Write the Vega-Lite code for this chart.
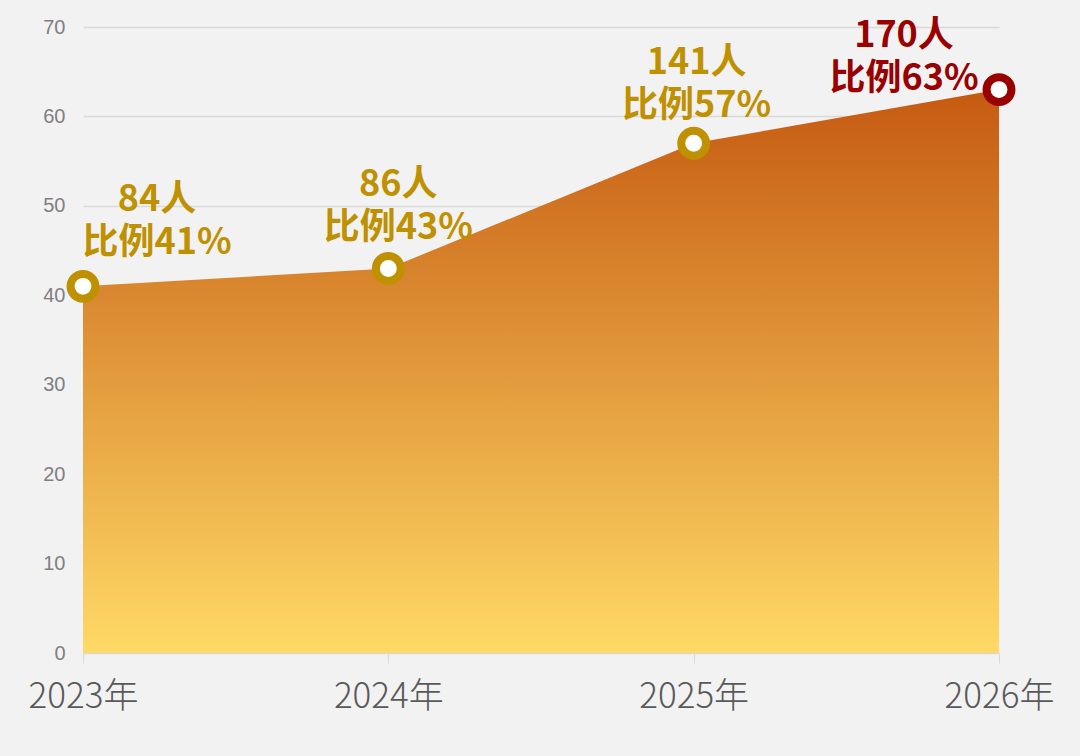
{
  "$schema": "https://vega.github.io/schema/vega-lite/v6.json",
  "width": 916,
  "height": 626,
  "autosize": {"type": "none"},
  "padding": {"left": 83, "top": 27, "right": 81, "bottom": 103},
  "background": "#f2f2f2",
  "config": {
    "view": {"stroke": null},
    "font": "Noto Sans CJK SC"
  },
  "data": {
    "values": [
      {"year": "2023年", "ratio": 41, "label": "84人\n比例41%"},
      {"year": "2024年", "ratio": 43, "label": "86人\n比例43%"},
      {"year": "2025年", "ratio": 57, "label": "141人\n比例57%"},
      {"year": "2026年", "ratio": 63, "label": "170人\n比例63%"}
    ]
  },
  "encoding": {
    "x": {
      "field": "year", "type": "ordinal", "sort": null,
      "scale": {"type": "point", "padding": 0},
      "axis": {
        "title": null, "labelAngle": 0, "labelFontSize": 35, "labelColor": "#595959",
        "labelFont": "Noto Sans CJK SC", "labelFontWeight": 300, "labelPadding": 16,
        "domainColor": "#d9d9d9", "tickColor": "#d9d9d9", "tickSize": 10, "grid": false
      }
    },
    "y": {
      "field": "ratio", "type": "quantitative",
      "scale": {"domain": [0, 70]},
      "axis": {
        "title": null, "values": [0, 10, 20, 30, 40, 50, 60, 70], "labelFontSize": 20,
        "labelColor": "#7f7f7f", "labelFont": "Liberation Sans", "labelPadding": 18, "domain": false, "ticks": false,
        "gridColor": "#d9d9d9", "gridWidth": 1.5
      }
    }
  },
  "layer": [
    {
      "mark": {
        "type": "area",
        "color": {
          "gradient": "linear", "x1": 0, "y1": 0, "x2": 0, "y2": 1,
          "stops": [
            {"offset": 0, "color": "#c55a11"},
            {"offset": 1, "color": "#ffd966"}
          ]
        }
      }
    },
    {
      "mark": {"type": "point", "filled": false, "fill": "white", "fillOpacity": 1, "size": 620, "strokeWidth": 8, "opacity": 1},
      "encoding": {
        "stroke": {
          "condition": {"test": "datum.year === '2026年'", "value": "#990000"},
          "value": "#bf9000"
        }
      }
    },
    {
      "transform": [{"filter": "datum.year === '2023年'"}],
      "mark": {"type": "text", "lineBreak": "\n", "align": "center", "baseline": "alphabetic", "dx": 74, "dy": -75, "fontSize": 36, "fontWeight": "bold", "lineHeight": 43, "color": "#bf9000", "font": "Noto Sans CJK SC"},
      "encoding": {"text": {"field": "label"}}
    },
    {
      "transform": [{"filter": "datum.year === '2024年'"}],
      "mark": {"type": "text", "lineBreak": "\n", "align": "center", "baseline": "alphabetic", "dx": 10, "dy": -72, "fontSize": 36, "fontWeight": "bold", "lineHeight": 43, "color": "#bf9000", "font": "Noto Sans CJK SC"},
      "encoding": {"text": {"field": "label"}}
    },
    {
      "transform": [{"filter": "datum.year === '2025年'"}],
      "mark": {"type": "text", "lineBreak": "\n", "align": "center", "baseline": "alphabetic", "dx": 3, "dy": -69, "fontSize": 36, "fontWeight": "bold", "lineHeight": 43, "color": "#bf9000", "font": "Noto Sans CJK SC"},
      "encoding": {"text": {"field": "label"}}
    },
    {
      "transform": [{"filter": "datum.year === '2026年'"}],
      "mark": {"type": "text", "lineBreak": "\n", "align": "center", "baseline": "alphabetic", "dx": -95, "dy": -43, "fontSize": 36, "fontWeight": "bold", "lineHeight": 43, "color": "#990000", "font": "Noto Sans CJK SC"},
      "encoding": {"text": {"field": "label"}}
    }
  ]
}
